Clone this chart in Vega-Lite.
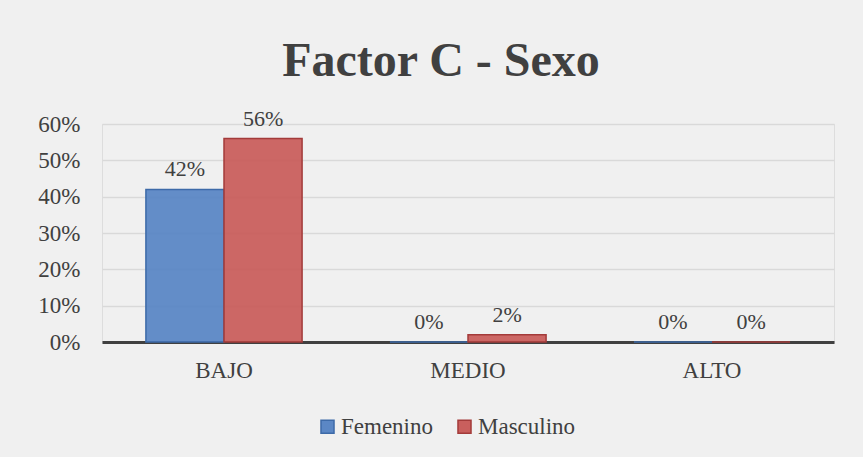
{
  "$schema": "https://vega.github.io/schema/vega-lite/v6.json",
  "autosize": "none",
  "width": 732,
  "height": 218,
  "padding": {"left": 102, "top": 124, "right": 29, "bottom": 115},
  "background": "#f0f0f0",
  "title": {
    "text": "Factor C - Sexo",
    "font": "Liberation Serif",
    "fontSize": 48,
    "fontWeight": "bold",
    "color": "#404040",
    "anchor": "middle",
    "dx": -27,
    "offset": 22
  },
  "data": {
    "values": [
      {"nivel": "BAJO", "sexo": "Femenino", "valor": 0.42},
      {"nivel": "BAJO", "sexo": "Masculino", "valor": 0.56},
      {"nivel": "MEDIO", "sexo": "Femenino", "valor": 0.0},
      {"nivel": "MEDIO", "sexo": "Masculino", "valor": 0.02},
      {"nivel": "ALTO", "sexo": "Femenino", "valor": 0.0},
      {"nivel": "ALTO", "sexo": "Masculino", "valor": 0.0}
    ]
  },
  "encoding": {
    "x": {
      "field": "nivel",
      "type": "nominal",
      "sort": ["BAJO", "MEDIO", "ALTO"],
      "scale": {"paddingInner": 0.36, "paddingOuter": 0.18},
      "axis": {
        "title": null,
        "labelAngle": 0,
        "labelFont": "Liberation Serif",
        "labelFontSize": 23,
        "labelColor": "#404040",
        "labelPadding": 17,
        "ticks": false,
        "domain": true,
        "domainColor": "#404040",
        "domainWidth": 3
      }
    },
    "xOffset": {"field": "sexo", "type": "nominal", "sort": ["Femenino", "Masculino"]},
    "y": {
      "field": "valor",
      "type": "quantitative",
      "scale": {"domain": [0, 0.6]},
      "axis": {
        "title": null,
        "format": ".0%",
        "values": [0, 0.1, 0.2, 0.3, 0.4, 0.5, 0.6],
        "labelFont": "Liberation Serif",
        "labelFontSize": 23,
        "labelColor": "#404040",
        "labelPadding": 22,
        "ticks": false,
        "domain": false,
        "grid": true,
        "gridColor": "#d9d9d9",
        "gridWidth": 1.5
      }
    }
  },
  "layer": [
    {
      "mark": {"type": "bar", "strokeWidth": 1.5, "fillOpacity": 0.95},
      "encoding": {
        "color": {
          "field": "sexo",
          "type": "nominal",
          "sort": ["Femenino", "Masculino"],
          "scale": {"domain": ["Femenino", "Masculino"], "range": ["#5b87c5", "#c95f5d"]},
          "legend": {
            "title": null,
            "orient": "none",
            "direction": "horizontal",
            "legendX": 214,
            "legendY": 291,
            "symbolType": "square",
            "symbolSize": 170,
            "symbolStrokeWidth": 1.5,
            "labelFont": "Liberation Serif",
            "labelFontSize": 23,
            "labelColor": "#404040",
            "labelOffset": 2,
            "columnPadding": 20
          }
        },
        "stroke": {
          "field": "sexo",
          "type": "nominal",
          "sort": ["Femenino", "Masculino"],
          "scale": {"domain": ["Femenino", "Masculino"], "range": ["#3d6aa8", "#a33b3a"]},
          "legend": null
        }
      }
    },
    {
      "mark": {"type": "text", "dy": -8, "font": "Liberation Serif", "fontSize": 22, "color": "#404040", "baseline": "bottom"},
      "encoding": {
        "text": {"field": "valor", "type": "quantitative", "format": ".0%"}
      }
    }
  ]
}
